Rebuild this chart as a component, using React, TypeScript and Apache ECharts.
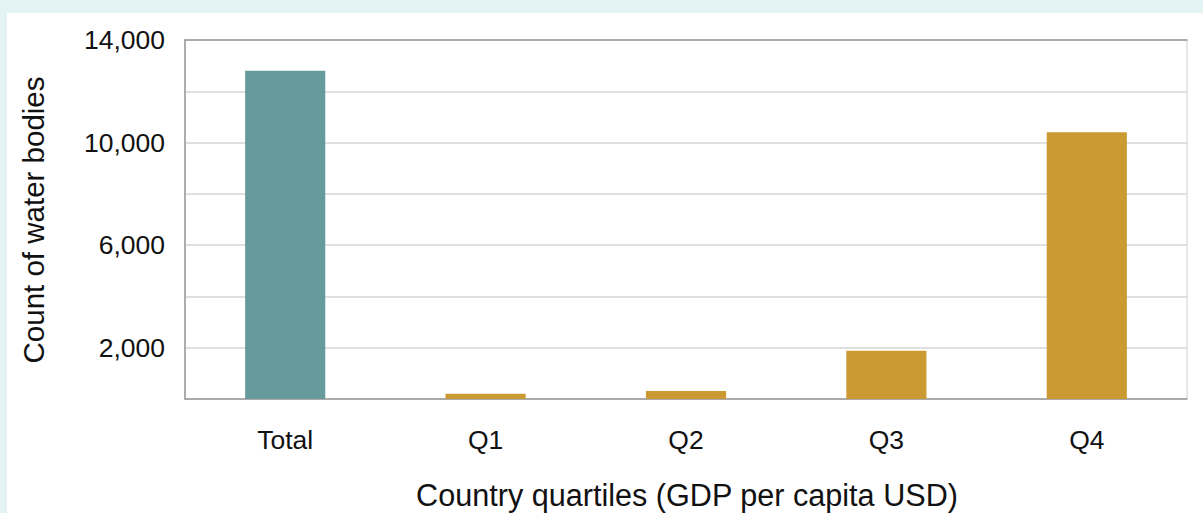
import React, { useEffect, useRef } from "react";
import * as echarts from "echarts";

const categories = ["Total", "Q1", "Q2", "Q3", "Q4"];
const counts = [12800, 200, 310, 1880, 10400];
const yTickValues = [2000, 6000, 10000, 14000];

const xTitle = "Country quartiles (GDP per capita USD)";
const yTitle = "Count of water bodies";

const FONT = "'Liberation Sans', Arial, Helvetica, sans-serif";
const TEAL = "#679a9a";
const GOLD = "#cc9a33";

export default function App() {
  const ref = useRef<HTMLDivElement | null>(null);

  useEffect(() => {
    document.body.style.margin = "0";
    if (!ref.current) return;
    const chart = echarts.init(ref.current, null, { renderer: "svg" });
    chart.setOption({
      animation: false,
      textStyle: { fontFamily: FONT },
      grid: {
        left: 178,
        top: 27,
        width: 1002,
        height: 359,
        show: true,
        borderColor: "#cfcfcf",
        borderWidth: 1,
        backgroundColor: "transparent",
      },
      xAxis: [
        {
          type: "category",
          data: categories,
          position: "bottom",
          axisLine: { show: true, lineStyle: { color: "#9a9a9a", width: 1.5 } },
          axisTick: { show: false },
          axisLabel: { fontSize: 26.5, color: "#111111", margin: 27, fontFamily: FONT },
          splitLine: { show: false },
        },
        {
          type: "category",
          data: categories,
          position: "top",
          axisLine: { show: true, lineStyle: { color: "#9a9a9a", width: 1.5 } },
          axisTick: { show: false },
          axisLabel: { show: false },
          splitLine: { show: false },
        },
      ],
      yAxis: {
        type: "value",
        min: 0,
        max: 14000,
        interval: 2000,
        axisLine: { show: true, lineStyle: { color: "#9a9a9a", width: 1.5 } },
        axisTick: { show: false },
        axisLabel: {
          fontSize: 26.5,
          color: "#111111",
          margin: 20,
          fontFamily: FONT,
          formatter: (v: number) =>
            yTickValues.indexOf(v) >= 0 ? v.toLocaleString("en-US") : "",
        },
        splitLine: { show: true, lineStyle: { color: "#d6d6d6", width: 1.5 } },
      },
      series: [
        {
          type: "bar",
          xAxisIndex: 0,
          barWidth: "40%",
          data: counts.map((v, i) => ({
            value: v,
            itemStyle: { color: i === 0 ? TEAL : GOLD },
          })),
        },
      ],
      graphic: [
        {
          type: "text",
          x: 680,
          y: 481.5,
          style: {
            text: xTitle,
            font: `30.6px ${FONT}`,
            fill: "#111111",
            align: "center",
            verticalAlign: "middle",
          },
        },
        {
          type: "text",
          x: 26,
          y: 207,
          rotation: Math.PI / 2,
          style: {
            text: yTitle,
            font: `29.5px ${FONT}`,
            fill: "#111111",
            align: "center",
            verticalAlign: "middle",
          },
        },
      ],
    });
    return () => chart.dispose();
  }, []);

  return (
    <div
      style={{
        position: "relative",
        width: 1203,
        height: 513,
        background: "#e4f4f4",
        overflow: "hidden",
      }}
    >
      <div
        style={{
          position: "absolute",
          left: 7,
          top: 13,
          width: 1196,
          height: 500,
          background: "#ffffff",
        }}
      >
        <div ref={ref} style={{ width: 1196, height: 500 }} />
      </div>
    </div>
  );
}
